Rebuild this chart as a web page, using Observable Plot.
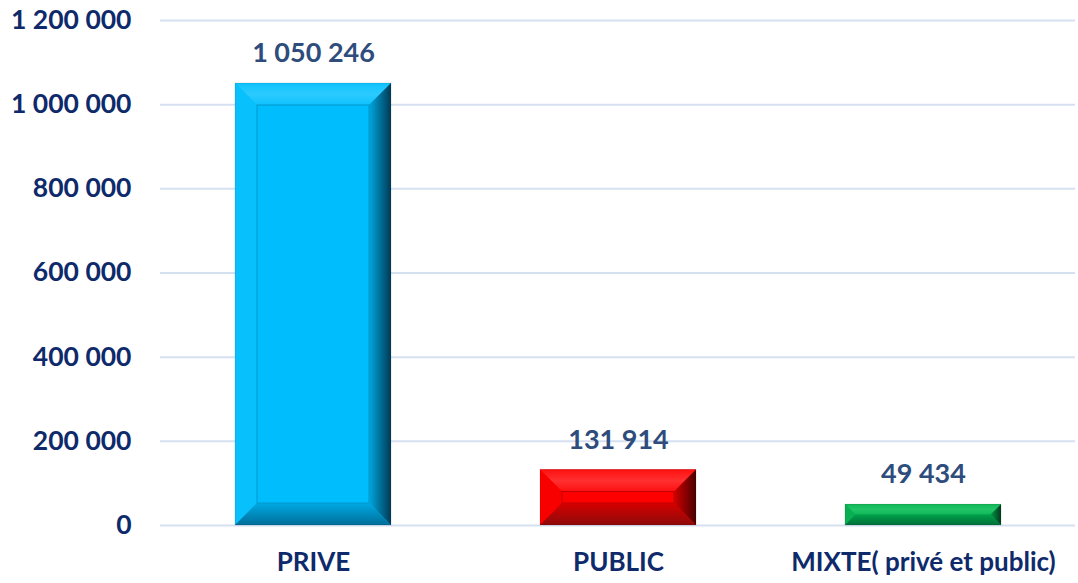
<!DOCTYPE html>
<html><head><meta charset="utf-8">
<script src="https://cdn.jsdelivr.net/npm/d3@7"></script>
<script src="https://cdn.jsdelivr.net/npm/@observablehq/plot@0.6"></script>
<style>
html,body{margin:0;padding:0;background:#fff;}
#chart svg{display:block;}
</style>
</head><body><div id="chart"></div>
<script>
const categories = ["PRIVE", "PUBLIC", "MIXTE( privé et public)"];
const values = [1050246, 131914, 49434];
const baseColors = ["#00BEFC", "#FF0000", "#00B050"];
const yTicks = [0, 200000, 400000, 600000, 800000, 1000000, 1200000];

const data = categories.map((c, i) => ({cat: c, value: values[i], color: baseColors[i]}));
const fr = d3.formatLocale({thousands: " ", grouping: [3], decimal: ",", currency: ["", ""]});
const fmt = fr.format(",d");
const FONT = "Lato, 'Open Sans', sans-serif";

const chart = Plot.plot({
  width: 1078, height: 583,
  marginLeft: 160, marginRight: 3, marginTop: 20, marginBottom: 58,
  style: {fontFamily: FONT, background: "#fff"},
  x: {domain: categories, paddingInner: 0.49, paddingOuter: 0.245, label: null},
  y: {domain: [0, 1200000], label: null},
  marks: [
    Plot.gridY(yTicks, {stroke: "#D5E0F1", strokeOpacity: 1, strokeWidth: 2}),
    Plot.axisY({ticks: yTicks, tickFormat: fmt, tickSize: 0, tickPadding: 29, fontSize: 26.5, fontWeight: 700, fill: "#0E2A6B", label: null}),
    Plot.axisX({tickSize: 0, tickPadding: 27, fontSize: 26, fontWeight: 700, fill: "#0E2A6B", label: null}),
    Plot.barY(data, {x: "cat", y: "value", fill: "color", className: "bevelbar"}),
    Plot.text(data, {x: "cat", y: "value", text: d => fmt(d.value), dy: -30, fontSize: 27, fontWeight: 700, fill: "#2E4C7C"})
  ]
});
document.getElementById("chart").appendChild(chart);

// Bevel decoration derived from the rendered bars
const svg = d3.select(chart);
const defs = svg.insert("defs", ":first-child");
const shades = [
  {top: ["#2CCBFF", "#10C2FD"], left: "#08C0FC", right: ["#00A8E0", "#003A55"], bottom: ["#00A9E3", "#006E99"], inner: "#00BDFD", innerStroke: "#0098CC"},
  {top: ["#FF3030", "#FF1010"], left: "#F80000", right: ["#D00000", "#4A0000"], bottom: ["#D60000", "#8E0A0A"], inner: "#FF0000", innerStroke: "#C00000"},
  {top: ["#22C468", "#10B858"], left: "#08B052", right: ["#009844", "#003A1E"], bottom: ["#00A04A", "#00703A"], inner: "#00B050", innerStroke: "#008A3E"}
];
shades.forEach((s, i) => {
  const gr = defs.append("linearGradient").attr("id", "gr" + i).attr("x1", 0).attr("x2", 1).attr("y1", 0).attr("y2", 0);
  gr.append("stop").attr("offset", "0%").attr("stop-color", s.right[0]);
  gr.append("stop").attr("offset", "100%").attr("stop-color", s.right[1]);
  const gb = defs.append("linearGradient").attr("id", "gb" + i).attr("x1", 0).attr("x2", 0).attr("y1", 0).attr("y2", 1);
  gb.append("stop").attr("offset", "0%").attr("stop-color", s.bottom[0]);
  gb.append("stop").attr("offset", "100%").attr("stop-color", s.bottom[1]);
  const gt = defs.append("linearGradient").attr("id", "gt" + i).attr("x1", 0).attr("x2", 0).attr("y1", 0).attr("y2", 1);
  gt.append("stop").attr("offset", "0%").attr("stop-color", s.top[1]);
  gt.append("stop").attr("offset", "50%").attr("stop-color", s.top[0]);
  gt.append("stop").attr("offset", "100%").attr("stop-color", s.top[1]);
});
svg.selectAll(".bevelbar rect").each(function(_, i) {
  const r = d3.select(this);
  const x = +r.attr("x"), y = +r.attr("y"), w = +r.attr("width"), h = +r.attr("height");
  const b = Math.min(22, h / 2);
  const g = d3.select(this.parentNode).append("g");
  const s = shades[i];
  const P = pts => pts.map(p => p.join(",")).join(" ");
  const x0 = x, x1 = x + w, y0 = y, y1 = y + h;
  g.append("polygon").attr("points", P([[x0,y0],[x1,y0],[x1-b,y0+b],[x0+b,y0+b]])).attr("fill", `url(#gt${i})`);
  g.append("polygon").attr("points", P([[x0,y0],[x0+b,y0+b],[x0+b,y1-b],[x0,y1]])).attr("fill", s.left);
  g.append("polygon").attr("points", P([[x0,y1],[x0+b,y1-b],[x1-b,y1-b],[x1,y1]])).attr("fill", `url(#gb${i})`);
  g.append("polygon").attr("points", P([[x1,y0],[x1,y1],[x1-b,y1-b],[x1-b,y0+b]])).attr("fill", `url(#gr${i})`);
  if (h - 2 * b > 1) {
    g.append("rect").attr("x", x0 + b).attr("y", y0 + b).attr("width", w - 2 * b).attr("height", h - 2 * b)
      .attr("fill", s.inner).attr("stroke", s.innerStroke).attr("stroke-width", 1);
  }
  g.append("rect").attr("x", x0).attr("y", y0).attr("width", w).attr("height", h)
    .attr("fill", "none").attr("stroke", "rgba(0,0,0,0.15)").attr("stroke-width", 0.8);
});
</script>
</body></html>
